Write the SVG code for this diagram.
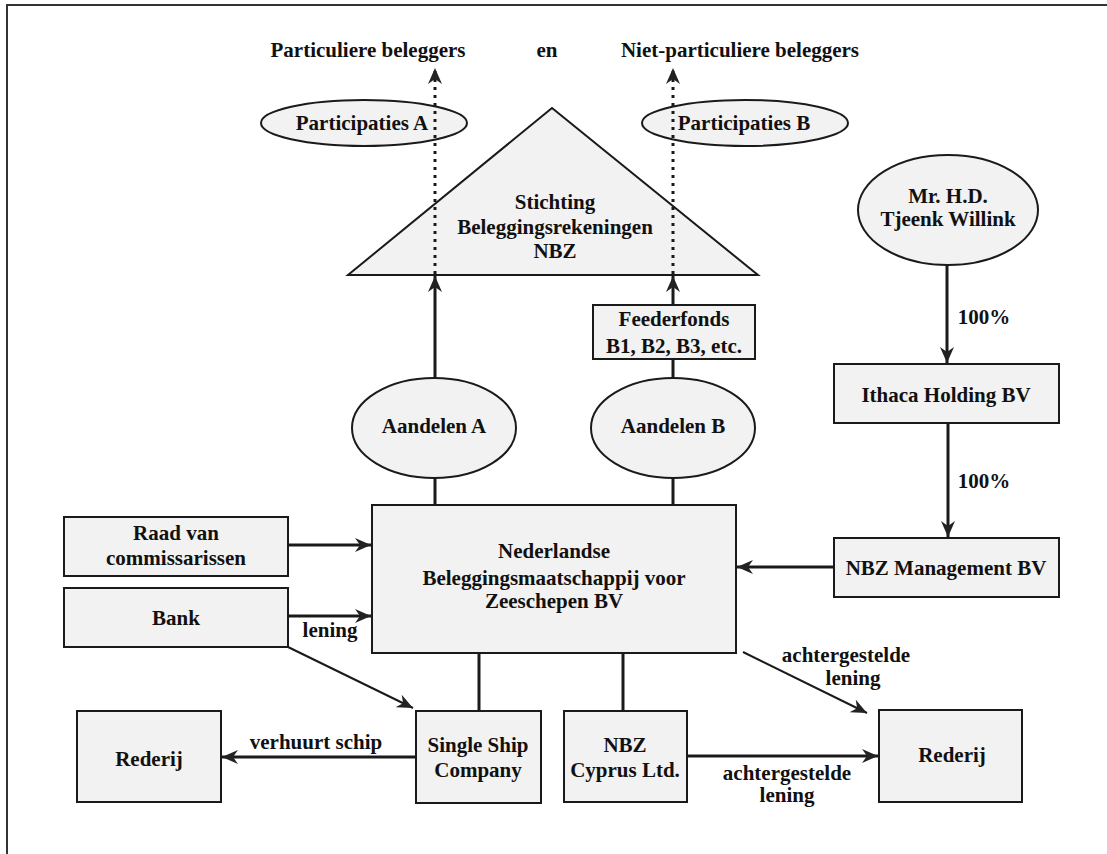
<svg xmlns="http://www.w3.org/2000/svg" width="1107" height="854" viewBox="0 0 1107 854">
<style>
.node{fill:#f2f2f2;stroke:#1a1a1a;stroke-width:2}
text{font-family:"Liberation Serif","Times New Roman",serif;font-weight:bold;font-size:21px;fill:#111;text-anchor:middle}
.c{stroke:#1a1a1a;fill:none}
.thick{stroke-width:3}
.thin{stroke-width:2}
.dot{stroke-width:3;stroke-dasharray:3 5}
</style>
<defs>
<marker id="ah" markerUnits="userSpaceOnUse" markerWidth="16" markerHeight="14" refX="16" refY="7" orient="auto">
<path d="M0,0 L16,7 L0,14 L5,7 z" fill="#222"/>
</marker>
</defs>
<rect width="1107" height="854" fill="#fff"/>
<path d="M7,854 V5 H1107" fill="none" stroke="#333" stroke-width="2"/>

<g id="top-labels">
<text x="368" y="57">Particuliere beleggers</text>
<text x="547" y="57">en</text>
<text x="740" y="57">Niet-particuliere beleggers</text>
</g>

<g id="stichting">
<polygon class="node" points="552,108 758,275 348,275"/>
<text x="555" y="209">Stichting</text>
<text x="555" y="234">Beleggingsrekeningen</text>
<text x="555" y="258">NBZ</text>
</g>
<g id="participaties-a">
<ellipse class="node" cx="364" cy="123" rx="103" ry="23"/>
<text x="362" y="130">Participaties A</text>
</g>
<g id="participaties-b">
<ellipse class="node" cx="745" cy="123" rx="103" ry="23"/>
<text x="744" y="130">Participaties B</text>
</g>
<g id="willink">
<ellipse class="node" cx="948" cy="210" rx="90" ry="55"/>
<text x="948" y="203">Mr. H.D.</text>
<text x="948" y="226">Tjeenk Willink</text>
</g>
<g id="feederfonds">
<rect class="node" x="593" y="305" width="162" height="54"/>
<text x="674" y="326">Feederfonds</text>
<text x="674" y="353">B1, B2, B3, etc.</text>
</g>
<g id="ithaca">
<rect class="node" x="834" y="364" width="225" height="59"/>
<text x="946" y="402">Ithaca Holding BV</text>
</g>
<g id="aandelen-a">
<ellipse class="node" cx="434" cy="428" rx="82" ry="50"/>
<text x="434" y="433">Aandelen A</text>
</g>
<g id="aandelen-b">
<ellipse class="node" cx="673" cy="428" rx="82" ry="50"/>
<text x="673" y="433">Aandelen B</text>
</g>
<g id="raad">
<rect class="node" x="64" y="517" width="224" height="59"/>
<text x="176" y="540">Raad van</text>
<text x="176" y="565">commissarissen</text>
</g>
<g id="bank">
<rect class="node" x="64" y="588" width="224" height="59"/>
<text x="176" y="625">Bank</text>
</g>
<g id="nbz-bv">
<rect class="node" x="372" y="505" width="364" height="148"/>
<text x="554" y="558">Nederlandse</text>
<text x="554" y="585">Beleggingsmaatschappij voor</text>
<text x="554" y="608">Zeeschepen BV</text>
</g>
<g id="nbz-management">
<rect class="node" x="834" y="538" width="225" height="59"/>
<text x="946" y="575">NBZ Management BV</text>
</g>
<g id="rederij-left">
<rect class="node" x="77" y="711" width="144" height="91"/>
<text x="149" y="766">Rederij</text>
</g>
<g id="single-ship">
<rect class="node" x="416" y="711" width="125" height="92"/>
<text x="478" y="752">Single Ship</text>
<text x="478" y="777">Company</text>
</g>
<g id="nbz-cyprus">
<rect class="node" x="564" y="711" width="123" height="91"/>
<text x="625" y="752">NBZ</text>
<text x="625" y="777">Cyprus Ltd.</text>
</g>
<g id="rederij-right">
<rect class="node" x="879" y="710" width="143" height="92"/>
<text x="952" y="762">Rederij</text>
</g>

<g id="connectors">
<line class="c dot" x1="435" y1="274" x2="435" y2="68" marker-end="url(#ah)"/>
<line class="c dot" x1="673" y1="274" x2="673" y2="68" marker-end="url(#ah)"/>
<line class="c thick" x1="435" y1="378" x2="435" y2="276" marker-end="url(#ah)"/>
<line class="c thick" x1="673" y1="305" x2="673" y2="276" marker-end="url(#ah)"/>
<line class="c thick" x1="673" y1="359" x2="673" y2="378"/>
<line class="c thick" x1="435" y1="478" x2="435" y2="505"/>
<line class="c thick" x1="673" y1="478" x2="673" y2="505"/>
<line class="c thick" x1="947" y1="265" x2="947" y2="363" marker-end="url(#ah)"/>
<line class="c thick" x1="948" y1="423" x2="948" y2="537" marker-end="url(#ah)"/>
<line class="c thick" x1="288" y1="545" x2="371" y2="545" marker-end="url(#ah)"/>
<line class="c thick" x1="288" y1="616" x2="371" y2="616" marker-end="url(#ah)"/>
<line class="c thick" x1="834" y1="567" x2="737" y2="567" marker-end="url(#ah)"/>
<line class="c thin" x1="288" y1="647" x2="413" y2="708" marker-end="url(#ah)"/>
<line class="c thin" x1="743" y1="652" x2="867" y2="713" marker-end="url(#ah)"/>
<line class="c thick" x1="479" y1="653" x2="479" y2="711"/>
<line class="c thick" x1="623" y1="653" x2="623" y2="711"/>
<line class="c thick" x1="416" y1="757" x2="222" y2="757" marker-end="url(#ah)"/>
<line class="c thick" x1="687" y1="756" x2="878" y2="756" marker-end="url(#ah)"/>
<text x="984" y="324">100%</text>
<text x="984" y="488">100%</text>
<text x="330" y="637">lening</text>
<text x="846" y="662">achtergestelde</text>
<text x="853" y="685">lening</text>
<text x="316" y="749">verhuurt schip</text>
<text x="787" y="780">achtergestelde</text>
<text x="787" y="802">lening</text>
</g>
</svg>
